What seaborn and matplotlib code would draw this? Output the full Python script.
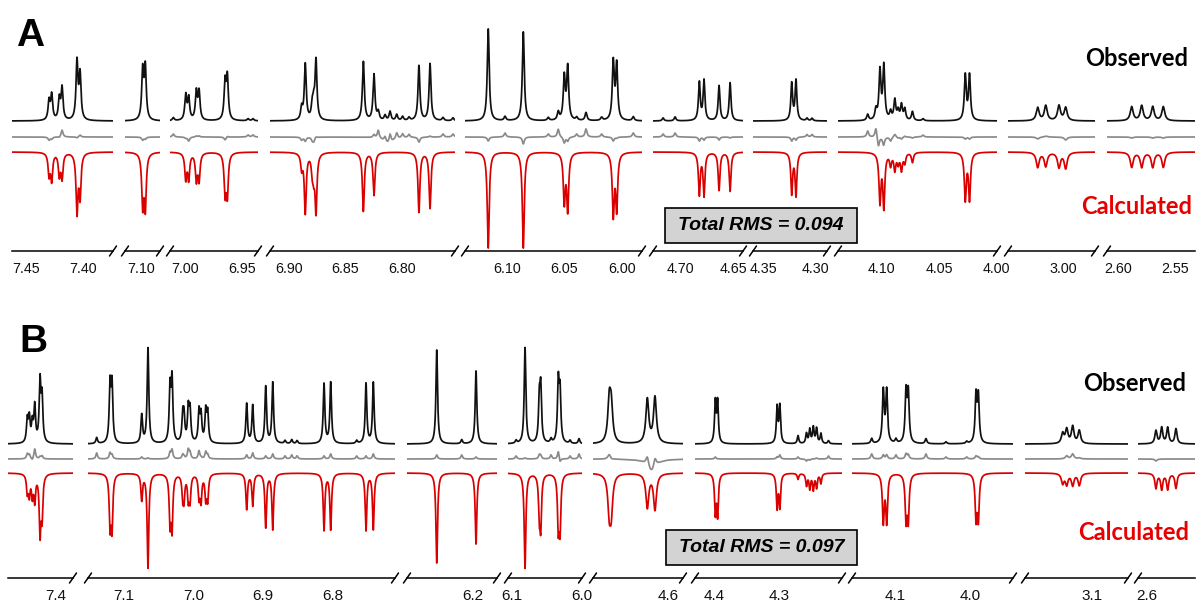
import numpy as np
import pandas as pd
import matplotlib
matplotlib.use("Agg")
import matplotlib.pyplot as plt
from matplotlib.lines import Line2D
from matplotlib.patches import Rectangle
from matplotlib.ticker import MultipleLocator, FormatStrFormatter
import seaborn as sns

W, H = 1197, 601

# ---------------- panel A: peak list ----------------
# ppm, observed height, calculated height (heights in screen units)
A_PPM = [7.4298, 7.4275, 7.4208, 7.4184, 7.4053, 7.4026,
         7.0985, 7.0962,
         6.9994, 6.9968, 6.9901, 6.9877, 6.9649, 6.9629,
         6.8888, 6.8856, 6.8794, 6.8781, 6.8761, 6.8342, 6.8248, 6.7850, 6.7752,
         6.1163, 6.0858, 6.0502, 6.0472, 6.0076, 6.0046,
         4.6818, 4.6774, 4.6632, 4.6528,
         4.3224, 4.3183,
         4.1017, 4.0983, 4.0924, 4.0887, 4.0858, 4.0829, 4.0800, 4.0733, 4.0272, 4.0235,
         3.0220, 3.0150, 3.0035, 2.9977,
         2.5881, 2.5794, 2.5698, 2.5606]
A_OBS = [19, 25, 21, 32, 58, 45,
         49, 52,
         25, 22, 28, 28, 37, 42,
         12, 56, 13, 14, 59, 59, 46, 55, 57,
         92, 89, 43, 53, 58, 55,
         38, 40, 35, 38,
         37, 40,
         49, 54, 8, 20, 9, 15, 11, 9, 45, 45,
         13, 15, 15, 13,
         14, 15, 14, 14]
A_CALC = [22, 27, 22, 25, 59, 43,
          52, 54,
          26, 26, 27, 27, 40, 41,
          15, 60, 16, 18, 58, 59, 43, 60, 56,
          96, 96, 49, 57, 62, 56,
          42, 43, 38, 39,
          41, 43,
          49, 54, 12, 17, 10, 17, 10, 10, 47, 47,
          15, 14, 15, 16,
          15, 15, 15, 15]
# small lines seen only in the observed trace
A_IMP_PPM = [7.0103, 6.9447, 6.9404, 6.8210, 6.8150, 6.8106, 6.8047, 6.7995, 6.7938,
             6.7637, 6.7549, 6.1017, 6.0641, 6.0554, 6.0394, 6.0313, 6.0177, 5.9902,
             4.7160, 4.7047, 4.3077, 4.3029, 4.1124, 4.1052, 4.0641]
A_IMP_H = [3, 2, 2, 8, 5, 9, 6, 4, 3,
           3, 3, 4, 3, 8, 3, 8, 3, 4,
           3, 4, 2.5, 2.5, 6, 10, 2]
# slow features of the difference trace
A_RES_PPM = [6.8120, 4.1030, 4.0985]
A_RES_H = [-7, -10, -8]
A_RES_W = [0.005, 0.0010, 0.0010]

# ---------------- panel B ----------------
B_PPM = [7.4413, 7.4384, 7.4341, 7.4306, 7.4230, 7.4201,
         7.1201, 7.1173, 7.0745, 7.0655, 7.0338, 7.0309, 7.0155, 7.0137, 7.0075, 7.0050,
         6.9921, 6.9892, 6.9824, 6.9796, 6.9235, 6.9148, 6.8961, 6.8860,
         6.8122, 6.8026, 6.7518, 6.7413,
         6.2522, 6.1957,
         6.0813, 6.0607, 6.0587, 6.0334, 6.0309,
         4.6744, 4.6719, 4.6262, 4.6165,
         4.3984, 4.3948, 4.3031, 4.2989, 4.2708, 4.2578, 4.2527, 4.2473, 4.2422, 4.2355,
         4.1156, 4.1111, 4.0853, 4.0823, 3.9920, 3.9889,
         3.1422, 3.1364, 3.1278, 3.1183,
         2.5871, 2.5788, 2.5702, 2.5583]
B_OBS = [23, 24, 19, 36, 60, 44,
         57, 57, 28, 96, 54, 62, 25, 24, 33, 31,
         31, 27, 31, 29, 40, 38, 57, 61,
         60, 61, 60, 61,
         94, 73,
         96, 41, 52, 60, 49,
         40, 34, 44, 46,
         41, 41, 36, 37, 8, 10, 14, 16, 15, 10,
         52, 52, 50, 49, 47, 46,
         10, 14, 17, 13,
         13, 16, 16, 15]
B_CALC = [18, 20, 21, 26, 58, 41,
          51, 53, 26, 95, 48, 53, 21, 22, 24, 25,
          23, 26, 24, 25, 36, 32, 54, 56,
          57, 56, 57, 56,
          90, 71,
          95, 37, 49, 52, 53,
          35, 35, 34, 36,
          39, 41, 34, 33, 6, 12, 15, 16, 14, 10,
          48, 48, 45, 45, 44, 44,
          10, 11, 12, 12,
          15, 16, 16, 15]
B_IMP_PPM = [7.1393, 6.8683, 6.8587, 6.8510, 6.7652, 6.2163, 6.0942, 6.0439, 6.0165, 6.0036,
             4.2239, 4.1311, 4.0987, 4.0587, 4.0320, 4.0044]
B_IMP_H = [6, 3, 4, 3, 3, 4, 3, 4, 3, 5,
           3, 5, 4, 5, 2, 2]
B_RES_PPM = [4.6207]
B_RES_H = [-14]
B_RES_W = [0.007]

# broken-axis segments: pixel span, ppm at left/right edge, line half width
A_SEGMENTS = [(12, 113, 7.4623, 7.3737, 0.0010),
              (125, 160, 7.1140, 7.0833, 0.0010),
              (170, 258, 7.0132, 6.9360, 0.0010),
              (270, 455, 6.9168, 6.7531, 0.0010),
              (465, 642, 6.1365, 5.9826, 0.0010),
              (653, 743, 4.7255, 4.6406, 0.0010),
              (753, 827, 4.3596, 4.2885, 0.0010),
              (838, 997, 4.1383, 3.9995, 0.0010),
              (1008, 1095, 3.0478, 2.9722, 0.0015),
              (1107, 1195, 2.6096, 2.5330, 0.0015)]
B_SEGMENTS = [(8, 73, 7.4691, 7.3755, 0.0014),
              (88, 395, 7.1518, 6.7101, 0.0014),
              (407, 497, 6.2950, 6.1655, 0.0014),
              (508, 582, 6.1058, 5.9993, 0.0014),
              (593, 683, 4.6950, 4.5810, 0.0022),
              (695, 842, 4.4297, 4.2030, 0.0014),
              (852, 1013, 4.1573, 3.9427, 0.0014),
              (1025, 1128, 3.1964, 3.0482, 0.0022),
              (1138, 1195, 2.6129, 2.5309, 0.0018)]

COLORS = {"obs": "#111111", "diff": "#8a8a8a", "calc": "#d90000"}
RED_TEXT = "#e60000"


def lorentz(x, centres, heights, hwhm):
    y = np.zeros_like(x)
    for c, h in zip(centres, heights):
        y += h / (1.0 + ((x - c) / hwhm) ** 2)
    return y


def fx(px):
    return px / W


def fy(px):
    return 1 - px / H


def slash(fig, px, py):
    fig.add_artist(Line2D([fx(px - 3.5), fx(px + 3.5)], [fy(py + 5), fy(py - 5)],
                          color="black", lw=1.1, transform=fig.transFigure))


def draw_panel(fig, p):
    segs = p["segments"]
    for i, (px0, px1, left, right, hw) in enumerate(segs):
        ax = fig.add_axes([fx(px0), fy(p["bottom"]), (px1 - px0) / W,
                           (p["bottom"] - p["top"]) / H])
        x = np.linspace(left, right, 1600)
        obs = lorentz(x, p["ppm"], p["obs"], hw) + lorentz(x, p["imp_ppm"], p["imp_h"], hw)
        calc = lorentz(x, p["ppm"], p["calc"], hw)
        resid = np.zeros_like(x)
        for c, h, w in zip(p["res_ppm"], p["res_h"], p["res_w"]):
            resid += lorentz(x, [c], [h], w)
        diff = obs - calc + resid

        df = pd.concat([
            pd.DataFrame({"ppm": x, "y": obs, "trace": "obs"}),
            pd.DataFrame({"ppm": x, "y": p["gray_off"] + diff, "trace": "diff"}),
            pd.DataFrame({"ppm": x, "y": p["red_off"] - calc, "trace": "calc"}),
        ])
        sns.lineplot(data=df, x="ppm", y="y", hue="trace", palette=COLORS,
                     estimator=None, sort=False, legend=False, lw=1.25, ax=ax)

        ax.set_xlim(left, right)
        ax.set_ylim(*p["ylim"])
        ax.set_xlabel("")
        ax.set_ylabel("")
        ax.set_yticks([])
        ax.set_facecolor("none")
        for s in ("left", "right", "top"):
            ax.spines[s].set_visible(False)
        ax.spines["bottom"].set_color("black")
        ax.spines["bottom"].set_linewidth(1.1)
        ax.xaxis.set_major_locator(MultipleLocator(p["major"]))
        ax.xaxis.set_minor_locator(MultipleLocator(p["major"] / 2))
        ax.xaxis.set_major_formatter(FormatStrFormatter(p["fmt"]))
        ax.tick_params(axis="x", which="major", length=5, width=1.0, color="black",
                       direction="out", pad=3, labelsize=p["labelsize"], labelcolor="#111111")
        ax.tick_params(axis="x", which="minor", length=2.5, width=1.0, color="black",
                       direction="out")

        # break marks
        if i > 0:
            slash(fig, px0, p["bottom"])
        if i < len(segs) - 1:
            slash(fig, px1, p["bottom"])

    # panel letter and legends
    fig.text(fx(p["letter_xy"][0]), fy(p["letter_xy"][1]), p["letter"], fontsize=28,
             fontweight="bold", ha="left", va="baseline", color="black")
    fig.text(fx(p["obs_xy"][0]), fy(p["obs_xy"][1]), "Observed", fontsize=17,
             fontweight="bold", family=["Lato", "DejaVu Sans"], ha="right",
             va="baseline", color="black")
    fig.text(fx(p["calc_xy"][0]), fy(p["calc_xy"][1]), "Calculated", fontsize=17,
             fontweight="bold", family=["Lato", "DejaVu Sans"], ha="right",
             va="baseline", color=RED_TEXT)

    # RMS box
    x0, y0, x1, y1 = p["box"]
    fig.add_artist(Rectangle((fx(x0), fy(y1)), (x1 - x0) / W, (y1 - y0) / H,
                             transform=fig.transFigure, facecolor="#d3d3d3",
                             edgecolor="black", lw=1.2))
    fig.text(fx((x0 + x1) / 2), fy((y0 + y1) / 2), p["rms"], fontsize=14,
             fontweight="bold", fontstyle="italic", ha="center", va="center",
             color="black")


def main():
    sns.set_style("white")
    plt.rcParams["font.family"] = ["Liberation Sans", "DejaVu Sans"]

    fig = plt.figure(figsize=(W / 100, H / 100), dpi=100)
    fig.patch.set_facecolor("white")

    panel_a = dict(ppm=A_PPM, obs=A_OBS, calc=A_CALC, imp_ppm=A_IMP_PPM, imp_h=A_IMP_H,
                   res_ppm=A_RES_PPM, res_h=A_RES_H, res_w=A_RES_W, segments=A_SEGMENTS,
                   top=15, bottom=251, ylim=(-130, 106), gray_off=-16, red_off=-31,
                   major=0.05, fmt="%.2f", labelsize=10.3,
                   letter="A", letter_xy=(16, 46), obs_xy=(1188, 66), calc_xy=(1192, 214),
                   box=(665, 208, 857, 243), rms="Total RMS = 0.094")
    panel_b = dict(ppm=B_PPM, obs=B_OBS, calc=B_CALC, imp_ppm=B_IMP_PPM, imp_h=B_IMP_H,
                   res_ppm=B_RES_PPM, res_h=B_RES_H, res_w=B_RES_W, segments=B_SEGMENTS,
                   top=318, bottom=578, ylim=(-134, 126), gray_off=-15, red_off=-29,
                   major=0.1, fmt="%.1f", labelsize=11,
                   letter="B", letter_xy=(19, 352), obs_xy=(1186, 391), calc_xy=(1189, 540),
                   box=(666, 530, 857, 565), rms="Total RMS = 0.097")

    draw_panel(fig, panel_a)
    draw_panel(fig, panel_b)

    fig.savefig("out.png", dpi=100, facecolor="white")
    plt.close(fig)


if __name__ == "__main__":
    main()
